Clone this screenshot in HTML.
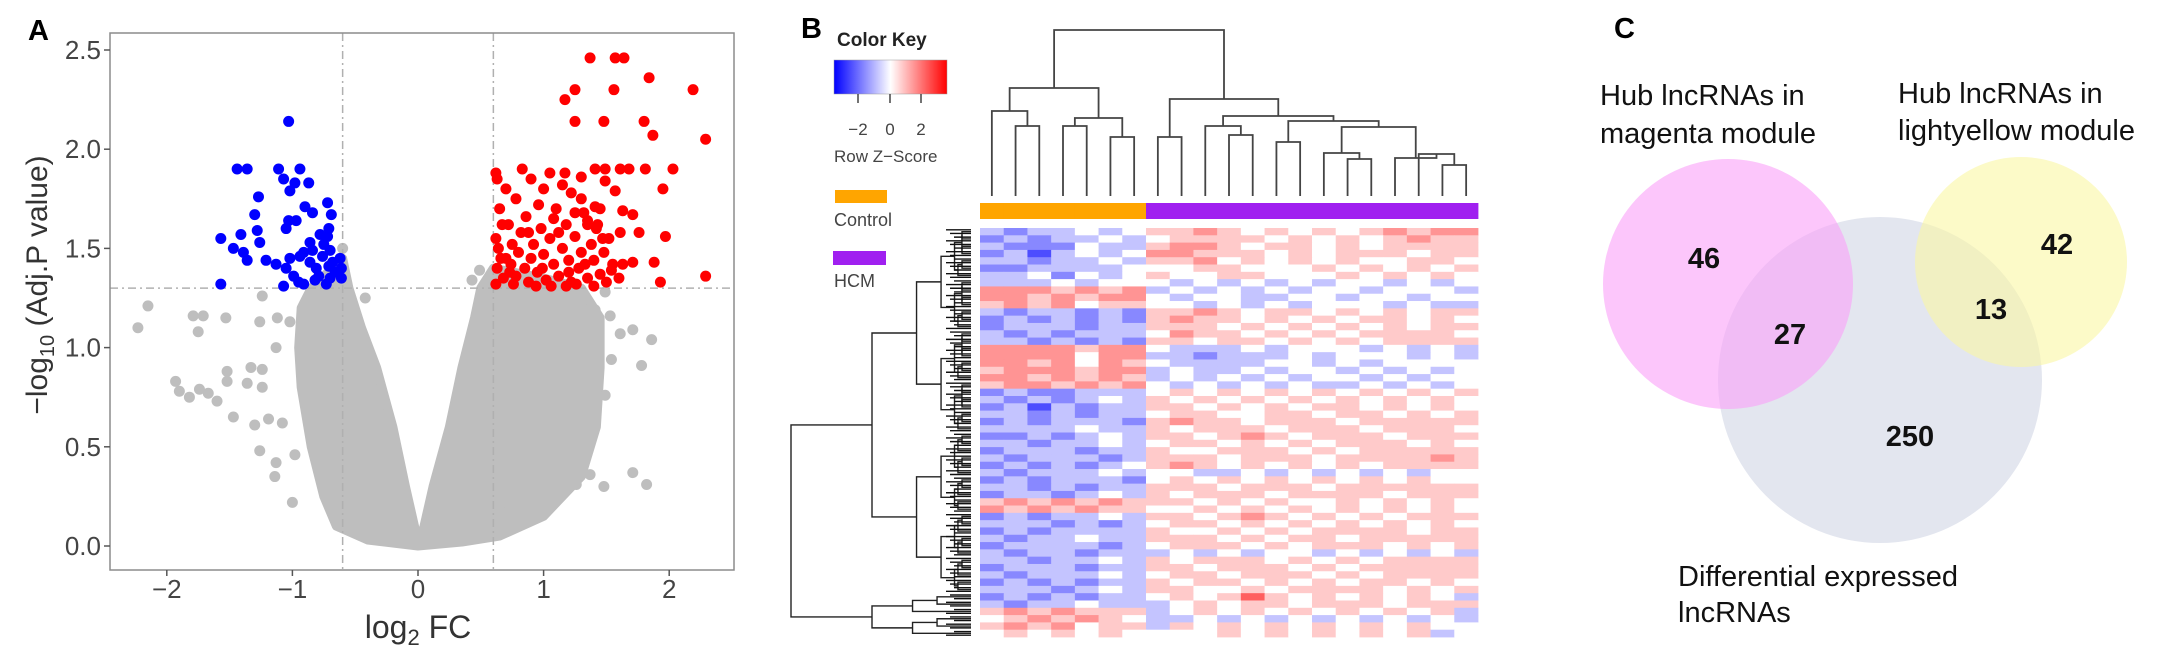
<!DOCTYPE html>
<html><head><meta charset="utf-8"><style>
html,body{margin:0;padding:0;background:#fff}
svg{display:block;font-family:"Liberation Sans",Arial,sans-serif}
</style></head><body>
<svg id="fig" width="2163" height="662" viewBox="0 0 2163 662" xmlns="http://www.w3.org/2000/svg">
<g id="panelA"></g>
<g id="panelB"></g>
<g id="panelC">
  <text x="1614" y="38" font-size="29" font-weight="bold">C</text>
  <ellipse cx="1880" cy="380" rx="162" ry="163" fill="#e3e6ef"/>
  <ellipse cx="1728" cy="284" rx="125" ry="125" fill="#faa0f8" fill-opacity="0.6"/>
  <ellipse cx="2021" cy="262" rx="106" ry="105" fill="#faf7a3" fill-opacity="0.6"/>
  <g font-size="29" fill="#111">
    <text x="1600" y="105">Hub lncRNAs in</text>
    <text x="1600" y="143">magenta module</text>
    <text x="1898" y="103">Hub lncRNAs in</text>
    <text x="1898" y="140">lightyellow module</text>
    <text x="1678" y="586">Differential expressed</text>
    <text x="1678" y="622">lncRNAs</text>
  </g>
  <g font-size="29" font-weight="bold" fill="#111" text-anchor="middle">
    <text x="1704" y="268">46</text>
    <text x="1790" y="344">27</text>
    <text x="1991" y="319">13</text>
    <text x="2057" y="254">42</text>
    <text x="1910" y="446">250</text>
  </g>
</g>
</svg>
<script>
// ---------- Panel A data ----------
const xTicks = [-2, -1, 0, 1, 2];
const yTicks = [0.0, 0.5, 1.0, 1.5, 2.0, 2.5];
const fcCut = [-0.6, 0.6];
const pCut = 1.3;
const grayEnvelope = [[0,0],[-0.4,0.03],[-0.65,0.1],[-0.75,0.25],[-0.85,0.5],[-0.93,0.8],[-0.95,1.0],[-0.93,1.2],[-0.85,1.3],[-0.6,1.45],[-0.55,1.3],[-0.45,1.1],[-0.33,0.9],[-0.2,0.6],[-0.1,0.3],[-0.01,0.05],[0.03,0.05],[0.12,0.3],[0.25,0.6],[0.35,0.9],[0.45,1.15],[0.5,1.3],[0.6,1.4],[1.0,1.35],[1.3,1.3],[1.45,1.15],[1.45,0.9],[1.42,0.6],[1.3,0.35],[1.0,0.15],[0.65,0.05],[0.35,0.02]];
const grayX = [-2.23,-2.15,-1.79,-1.71,-1.75,-1.53,-1.26,-1.12,-1.02,-1.24,-1.13,-1.93,-1.90,-1.82,-1.74,-1.67,-1.60,-1.52,-1.52,-1.47,-1.33,-1.24,-1.36,-1.24,-1.30,-1.19,-1.08,-1.26,-1.13,-1.14,-0.98,-1.0,-0.64,-0.42,-0.6,0.43,0.49,0.65,1.71,1.86,1.78,1.61,1.53,1.41,1.49,1.54,1.49,1.26,1.37,1.48,1.71,1.82,1.13,-0.9,-0.8,1.3,1.2];
const grayY = [1.10,1.21,1.16,1.16,1.08,1.15,1.13,1.15,1.13,1.26,1.00,0.83,0.78,0.75,0.79,0.77,0.73,0.88,0.83,0.65,0.90,0.89,0.82,0.80,0.61,0.64,0.62,0.48,0.42,0.35,0.46,0.22,0.19,1.25,1.50,1.34,1.39,0.18,1.09,1.04,0.91,1.07,1.16,1.19,1.28,0.94,0.76,0.31,0.36,0.30,0.37,0.31,0.36,1.1,0.95,1.2,1.1];
const downX = [-1.03,-1.44,-1.36,-1.11,-0.94,-1.07,-0.98,-0.87,-1.02,-1.27,-0.72,-0.90,-0.84,-1.30,-0.69,-1.03,-0.97,-1.28,-1.05,-0.71,-1.57,-1.41,-0.78,-0.72,-1.26,-0.86,-0.75,-1.47,-1.39,-0.91,-0.84,-0.70,-1.36,-1.21,-1.13,-1.02,-0.94,-0.86,-0.76,-0.62,-1.05,-0.81,-0.71,-0.61,-0.99,-0.79,-0.70,-0.61,-1.57,-1.07,-0.91,-0.73,-0.66,-0.82,-0.95,-0.68];
const downY = [2.14,1.90,1.90,1.90,1.90,1.85,1.83,1.83,1.79,1.76,1.73,1.71,1.68,1.67,1.67,1.64,1.64,1.59,1.60,1.60,1.55,1.57,1.57,1.56,1.53,1.53,1.52,1.50,1.48,1.48,1.49,1.49,1.44,1.44,1.42,1.45,1.46,1.43,1.46,1.45,1.40,1.40,1.41,1.40,1.36,1.36,1.35,1.35,1.32,1.31,1.32,1.32,1.38,1.34,1.33,1.43];
const upX = [1.37,1.57,1.64,1.84,1.25,1.56,2.19,1.17,1.25,1.48,1.80,1.87,2.29,2.03,1.81,1.41,1.49,1.61,1.68,1.17,1.95,1.49,1.57,1.41,1.63,1.71,1.30,1.97,1.76,1.61,1.35,1.43,1.88,1.71,1.63,1.54,1.93,2.29,
0.62,0.63,0.65,0.62,0.64,0.66,0.63,0.68,0.62,0.72,0.75,0.74,0.78,0.80,0.82,0.85,0.88,0.90,0.86,0.92,0.95,0.98,1.0,1.02,1.05,1.08,1.1,1.12,1.15,1.18,1.2,1.22,1.25,1.28,1.3,1.32,1.35,1.38,1.4,1.42,1.45,1.48,1.5,1.52,1.55,0.70,0.78,0.9,1.0,1.05,1.15,1.22,1.3,0.96,1.08,0.83,0.7,0.76,0.94,1.06,1.18,1.26,1.4,1.6,0.67,0.88,1.12,1.35,1.45,1.25,0.73,0.99,1.2,1.33,1.47];
const upY = [2.46,2.46,2.46,2.36,2.30,2.30,2.30,2.25,2.14,2.14,2.14,2.07,2.05,1.90,1.90,1.90,1.90,1.90,1.90,1.88,1.80,1.84,1.79,1.71,1.69,1.67,1.75,1.56,1.58,1.58,1.64,1.62,1.43,1.43,1.42,1.39,1.33,1.36,
1.88,1.85,1.70,1.55,1.50,1.45,1.40,1.35,1.32,1.62,1.52,1.42,1.36,1.48,1.58,1.40,1.33,1.45,1.66,1.52,1.38,1.60,1.47,1.34,1.55,1.42,1.70,1.36,1.50,1.62,1.44,1.33,1.56,1.40,1.48,1.68,1.35,1.52,1.44,1.60,1.37,1.48,1.33,1.55,1.42,1.80,1.75,1.85,1.80,1.88,1.82,1.78,1.86,1.72,1.65,1.90,1.45,1.32,1.31,1.31,1.31,1.32,1.31,1.35,1.62,1.58,1.58,1.62,1.70,1.68,1.38,1.40,1.38,1.42,1.55];

const NS = "http://www.w3.org/2000/svg";
function mk(tag, attrs, parent){const e=document.createElementNS(NS,tag);for(const k in attrs)e.setAttribute(k,attrs[k]);parent.appendChild(e);return e;}
const A = document.getElementById('panelA');
const X0=418, XS=125.6, Y0=546, YS=198.4;
const sx = v => X0 + v*XS;
const sy = v => Y0 - v*YS;
const box = {l:110,t:33,r:734,b:570};

let t = mk('text',{x:28,y:40,'font-size':29,'font-weight':'bold'},A); t.textContent='A';



const env = mk('polygon',{points:grayEnvelope.map(p=>sx(p[0])+','+sy(p[1])).join(' '),fill:'#bebebe',stroke:'#bebebe','stroke-width':9,'stroke-linejoin':'round'},A);


grayX.forEach((v,i)=>{const c=mk('circle',{cx:sx(v),cy:sy(grayY[i]),r:5.5,fill:'#bebebe'},A);

});

fcCut.forEach(v=>{const l=mk('line',{x1:sx(v),x2:sx(v),y1:box.t,y2:box.b,stroke:'#b0b0b0','stroke-width':1.5,'stroke-dasharray':'8,4,2,4'},A);

});
const hl=mk('line',{x1:box.l,x2:box.r,y1:sy(pCut),y2:sy(pCut),stroke:'#b0b0b0','stroke-width':1.5,'stroke-dasharray':'8,4,2,4'},A);



downX.forEach((v,i)=>{const c=mk('circle',{cx:sx(v),cy:sy(downY[i]),r:5.5,fill:'#0000ff'},A);

});
upX.forEach((v,i)=>{const c=mk('circle',{cx:sx(v),cy:sy(upY[i]),r:5.5,fill:'#ff0000'},A);

});

const fr=mk('rect',{x:box.l,y:box.t,width:box.r-box.l,height:box.b-box.t,fill:'none',stroke:'#8c8c8c','stroke-width':1.5},A);



yTicks.forEach(v=>{
  const l=mk('line',{x1:box.l-6,x2:box.l,y1:sy(v),y2:sy(v),stroke:'#555','stroke-width':1.5},A);
  
  
  const tx=mk('text',{x:box.l-9,y:sy(v)+9,'font-size':26,'text-anchor':'end',fill:'#444'},A);
  tx.textContent=v.toFixed(1);
  
  
});
xTicks.forEach(v=>{
  const l=mk('line',{x1:sx(v),x2:sx(v),y1:box.b,y2:box.b+6,stroke:'#555','stroke-width':1.5},A);
  
  
  const tx=mk('text',{x:sx(v),y:598,'font-size':26,'text-anchor':'middle',fill:'#444'},A);
  tx.textContent=(v<0?'\u2212':'')+Math.abs(v);
  
  
});
const xt=mk('text',{x:sx(0),y:638,'font-size':32,'text-anchor':'middle',fill:'#333'},A);
xt.innerHTML='log<tspan font-size="22" dy="7">2</tspan><tspan dy="-7"> FC</tspan>';


const yt=mk('text',{x:0,y:0,'font-size':30,'text-anchor':'middle',fill:'#333',transform:'translate(47,285) rotate(-90)'},A);
yt.innerHTML='\u2212log<tspan font-size="20" dy="7">10</tspan><tspan dy="-7"> (Adj.P value)</tspan>';



// ---------- Panel B data ----------
const heatRows = [
"2122323 44543434345455","1212232 34444343434544","2111322 45543443434444","1202323 55444343444344",
"2212232 44534343433443","1122223 33443334343434","2231323 43344333434343","2223233 32323232332323",
"5554545 23232323323332","5545455 32332233233233","4545344 33232323332322","2122121 44543443434344",
"1212121 45443434344343","1222122 44434343434344","2121222 35443434344443","2212121 44344343434444",
"5555455 32223233323232","5555355 22122232333232","5545354 32222332323333","4555455 23223233232323",
"5545454 23232323323233","4554545 32323232232323","1211222 34343434343434","2121232 43434343434343",
"1202122 44343434434343","2212122 34433443443434","1212221 45443444344444","2222322 43444344434443",
"1121232 44345434443444","2212232 34434343444343","1222122 43344434344444","2122212 44434443444454",
"1212123 45434343434444","2122232 33223232323233","1212221 34343434343433","2212122 44434443444444",
"1221232 43444344443444","4545454 44343433434343","5454544 33434343434343","1212232 44345434343444",
"2221212 34434343434343","1212222 43343434444344","2122322 44434344344444","1222212 34443434443434",
"2122122 23232332323232","2212232 43444343434444","1222122 44344434344444","2122232 34434443434444",
"1212122 43443434344343","2221232 44334344443434","1212122 34346434343432","2122322 23434434443444",
"4545444 23434343434342","3454543 22323232323232","4545344 24343434343433","3434343 33343434343423"];
const groups = ["Control","Control","Control","Control","Control","Control","Control","HCM","HCM","HCM","HCM","HCM","HCM","HCM","HCM","HCM","HCM","HCM","HCM","HCM","HCM"];
const colTree = [[1,2,126],[0,21,111],[3,4,126],[5,6,137],[23,24,118],[22,25,88],
 [7,8,137],[10,11,135],[9,28,126],[12,13,142],[15,16,159],[14,31,153],[19,20,165],[18,33,154],[17,34,158],[32,35,127],[30,36,121],[29,37,116],[27,38,99],[26,39,30]];
const B = document.getElementById('panelB');
const H={l:980,t:228,r:1478,b:637};
const nC=21, cw=(H.r-H.l)/nC, rh=(H.b-H.t)/heatRows.length;
function zcol(z){
  const a=Math.min(1,Math.abs(z)/4.3);
  if(z<0) return `rgb(${Math.round(255-a*255)},${Math.round(255-a*255)},255)`;
  return `rgb(255,${Math.round(255-a*230)},${Math.round(255-a*230)})`;
}
let bt=mk('text',{x:801,y:38,'font-size':29,'font-weight':'bold'},B); bt.textContent='B';


bt=mk('text',{x:837,y:46,'font-size':19,'font-weight':'bold',fill:'#222'},B); bt.textContent='Color Key';


const defs=mk('defs',{},B);
const lg=mk('linearGradient',{id:'ck',x1:0,x2:1,y1:0,y2:0},defs);
mk('stop',{offset:'0','stop-color':'#0000ff'},lg);mk('stop',{offset:'0.5','stop-color':'#ffffff'},lg);mk('stop',{offset:'1','stop-color':'#ff0000'},lg);
const ck=mk('rect',{x:834,y:60,width:113,height:34,fill:'url(#ck)',stroke:'#999','stroke-width':0.5},B);


[[-2,858],[0,890],[2,921]].forEach(p=>{
  const l=mk('line',{x1:p[1],x2:p[1],y1:94,y2:103,stroke:'#444','stroke-width':1.5},B);
  
  
  const tx=mk('text',{x:p[1],y:135,'font-size':17,'text-anchor':'middle',fill:'#444'},B);
  tx.textContent=(p[0]<0?'\u2212':'')+Math.abs(p[0]);
  
  
});
bt=mk('text',{x:834,y:162,'font-size':17,fill:'#444'},B); bt.textContent='Row Z\u2212Score';


let lr=mk('rect',{x:835,y:190,width:52,height:13,fill:'#ffa500'},B);


bt=mk('text',{x:834,y:226,'font-size':18,fill:'#444'},B); bt.textContent='Control';


lr=mk('rect',{x:833,y:251,width:53,height:14,fill:'#a020f0'},B);


bt=mk('text',{x:834,y:287,'font-size':18,fill:'#444'},B); bt.textContent='HCM';



heatRows.forEach((row,ri)=>{
  const vals=row.replace(/ /g,'').split('').map(c=>+c-3);
  vals.forEach((z,ci)=>{
    const r=mk('rect',{x:H.l+ci*cw,y:H.t+ri*rh,width:cw+0.4,height:rh+0.4,fill:zcol(z)},B);
    
    
  });
});
groups.forEach((g,ci)=>{
  const r=mk('rect',{x:H.l+ci*cw,y:203,width:cw+0.4,height:16,fill:g==='Control'?'#ffa500':'#a020f0'},B);
  
  
});
const leafY=196, nodeX=[], nodeY=[];
for(let i=0;i<nC;i++){nodeX[i]=H.l+(i+0.5)*cw;nodeY[i]=leafY;}
colTree.forEach((n,k)=>{
  const id=nC+k, a=n[0], b=n[1], y=n[2];
  nodeX[id]=(nodeX[a]+nodeX[b])/2; nodeY[id]=y;
  const p=mk('path',{d:`M${nodeX[a]},${nodeY[a]}V${y}H${nodeX[b]}V${nodeY[b]}`,fill:'none',stroke:'#444','stroke-width':1.8},B);
  
  
});
const nR=heatRows.length, RX=971;
function rowNode(lo,hi,depth){
  if(hi-lo===1) return {y:H.t+(lo+0.5)*rh,x:RX};
  const ratio = depth===0?0.9:(depth===1?0.55:0.5);
  let m=lo+Math.max(1,Math.round((hi-lo)*ratio)); if(m>=hi)m=hi-1;
  const a=rowNode(lo,m,depth+1), b=rowNode(m,hi,depth+1);
  const x = RX-180*Math.pow(0.55,depth)-(hi-lo<4?4:0);
  const p=mk('path',{d:`M${a.x},${a.y}H${x}V${b.y}H${b.x}`,fill:'none',stroke:'#222','stroke-width':1.4},B);
  
  
  return {x:x,y:(a.y+b.y)/2};
}
rowNode(0,nR,0);
for(let i=0;i<nR*2;i++){
  const y=H.t+(i+0.5)*rh/2;
  const l=mk('line',{x1:946+(i%3)*4,x2:RX,y1:y,y2:y,stroke:'#111','stroke-width':1.4},B);
  
  
}
</script>
</body></html>
